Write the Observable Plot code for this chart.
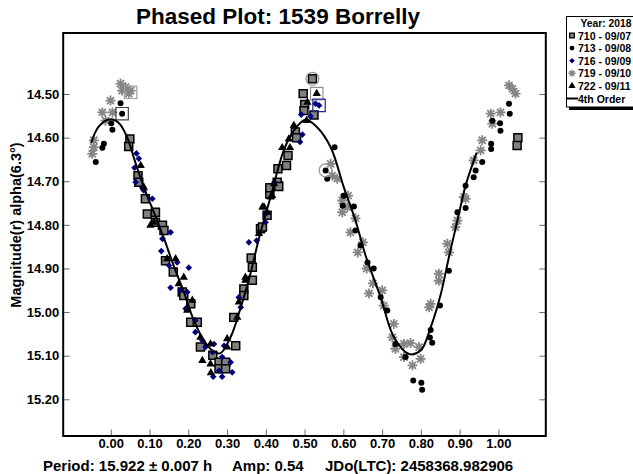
<!DOCTYPE html>
<html><head><meta charset="utf-8">
<script src="https://cdn.jsdelivr.net/npm/d3@7"></script>
<script src="https://cdn.jsdelivr.net/npm/@observablehq/plot@0.6"></script>
<style>
html,body{margin:0;padding:0;background:#fff;}
#wrap{position:relative;width:633px;height:474px;overflow:hidden;font-family:"Liberation Sans",Arial,sans-serif;}
#wrap svg{position:absolute;left:0;top:0;}
</style></head><body><div id="wrap"></div>
<script>
const titleText = "Phased Plot: 1539 Borrelly";
const yLabel = "Magnitude(r) alpha(6.3°)";
const captionParts = ["Period: 15.922 ± 0.007 h", "Amp: 0.54", "JDo(LTC): 2458368.982906"];
const legendTitle = "Year: 2018";
const seriesNames = ["710 - 09/07", "713 - 09/08", "716 - 09/09", "719 - 09/10", "722 - 09/11"];
const fitName = "4th Order";
const xTicks = [0, 0.1, 0.2, 0.3, 0.4, 0.5, 0.6, 0.7, 0.8, 0.9, 1.0];
const yTicks = [14.5, 14.6, 14.7, 14.8, 14.9, 15.0, 15.1, 15.2];

// [phase, magnitude]
const s710 = [[0.048,14.602],[0.045,14.619],[0.069,14.686],[0.071,14.701],[0.088,14.739],[0.093,14.774],[0.114,14.770],[0.114,14.793],[0.132,14.800],[0.136,14.812],[0.140,14.881],[0.160,14.907],[0.183,14.953],[0.187,14.961],[0.205,14.980],[0.205,15.022],[0.222,15.022],[0.230,15.079],[0.262,15.098],[0.278,15.114],[0.295,15.114],[0.278,15.129],[0.295,15.129],[0.321,15.076],[0.316,15.011],[0.342,14.946],[0.342,14.961],[0.364,14.926],[0.364,14.896],[0.361,14.875],[0.385,14.808],[0.390,14.804],[0.402,14.777],[0.409,14.728],[0.431,14.709],[0.519,14.464],[0.495,14.498],[0.499,14.523],[0.497,14.537],[0.523,14.547],[0.475,14.586],[0.478,14.599],[0.456,14.640],[0.452,14.663],[0.430,14.670],[0.428,14.701],[0.432,14.711],[0.409,14.714],[1.049,14.599],[1.047,14.617]];
const s713 = [[0.024,14.520],[0.028,14.544],[0.000,14.566],[0.003,14.581],[-0.019,14.613],[-0.023,14.622],[-0.040,14.655],[0.576,14.621],[0.553,14.674],[0.557,14.693],[0.599,14.732],[0.626,14.757],[0.597,14.755],[0.630,14.812],[0.643,14.846],[0.661,14.885],[0.677,14.899],[0.695,14.965],[0.712,14.995],[0.733,15.072],[0.759,15.102],[0.779,15.156],[0.800,15.161],[0.802,15.177],[0.824,15.040],[0.822,15.057],[0.828,15.069],[0.848,14.984],[0.871,14.904],[0.893,14.770],[0.914,14.760],[0.914,14.709],[1.026,14.521],[1.028,14.544],[0.983,14.560],[1.003,14.566],[1.004,14.583],[0.980,14.613],[0.980,14.625],[0.957,14.655],[0.940,14.674],[0.935,14.690]];
const s716 = [[0.065,14.635],[0.071,14.647],[0.060,14.668],[0.063,14.701],[0.080,14.713],[0.084,14.720],[0.106,14.739],[0.132,14.831],[0.129,14.859],[0.153,14.816],[0.149,14.892],[0.170,14.885],[0.200,14.897],[0.153,14.943],[0.179,14.949],[0.196,14.953],[0.192,14.991],[0.217,15.018],[0.217,15.045],[0.235,15.064],[0.243,15.079],[0.265,15.072],[0.261,15.091],[0.286,15.102],[0.308,15.114],[0.312,15.137],[0.263,15.147],[0.286,15.147],[0.278,15.133],[0.291,15.076],[0.329,14.965],[0.334,14.988],[0.355,14.839],[0.375,14.835],[0.398,14.793],[0.398,14.774],[0.536,14.525],[0.527,14.521],[0.490,14.546],[0.514,14.550],[0.493,14.592],[0.487,14.609],[0.421,14.701],[0.402,14.770]];
const s719 = [[0.024,14.475],[0.037,14.483],[0.050,14.491],[0.028,14.491],[0.045,14.498],[-0.002,14.514],[-0.023,14.541],[0.003,14.541],[-0.015,14.560],[-0.045,14.605],[-0.045,14.621],[-0.049,14.636],[0.566,14.659],[0.570,14.686],[0.583,14.693],[0.611,14.732],[0.596,14.743],[0.609,14.758],[0.596,14.770],[0.630,14.784],[0.617,14.816],[0.649,14.839],[0.636,14.862],[0.659,14.899],[0.675,14.933],[0.665,14.956],[0.699,14.949],[0.703,14.984],[0.729,15.026],[0.725,15.057],[0.733,15.083],[0.755,15.072],[0.772,15.070],[0.755,15.102],[0.777,15.121],[0.798,15.106],[0.794,15.079],[0.824,14.980],[0.820,14.988],[0.845,14.911],[0.845,14.927],[0.867,14.842],[0.871,14.862],[0.888,14.804],[0.893,14.789],[0.914,14.739],[0.910,14.735],[1.035,14.487],[1.026,14.479],[1.043,14.498],[0.979,14.544],[1.004,14.541],[0.983,14.567],[0.957,14.605],[0.953,14.628],[0.935,14.651]];
const s722 = [[0.076,14.663],[0.084,14.713],[0.101,14.800],[0.110,14.793],[0.144,14.877],[0.166,14.877],[0.187,14.919],[0.174,14.934],[0.209,14.972],[0.196,14.995],[0.230,15.057],[0.256,15.072],[0.235,15.110],[0.256,15.118],[0.257,15.138],[0.299,15.060],[0.299,15.079],[0.325,15.011],[0.329,14.976],[0.346,14.919],[0.346,14.926],[0.381,14.819],[0.390,14.758],[0.402,14.770],[0.415,14.732],[0.420,14.705],[0.530,14.498],[0.506,14.518],[0.504,14.560],[0.471,14.571],[0.458,14.602],[0.441,14.622],[0.461,14.622],[0.394,14.758],[0.411,14.735]];
// fitted 4th-order curve
const fit = [[-0.051,14.609],[-0.032,14.573],[-0.002,14.557],[0.020,14.566],[0.041,14.598],[0.060,14.650],[0.084,14.713],[0.110,14.770],[0.136,14.830],[0.160,14.890],[0.190,14.960],[0.213,15.018],[0.239,15.064],[0.265,15.090],[0.282,15.093],[0.308,15.056],[0.334,14.988],[0.359,14.911],[0.381,14.830],[0.411,14.735],[0.445,14.628],[0.471,14.583],[0.501,14.558],[0.531,14.575],[0.566,14.621],[0.600,14.713],[0.630,14.789],[0.656,14.869],[0.695,14.965],[0.729,15.056],[0.768,15.095],[0.798,15.087],[0.824,15.034],[0.850,14.958],[0.871,14.873],[0.893,14.789],[0.914,14.709],[0.942,14.635]];
// flagged points
const ringed = [[0.519,14.464],[0.553,14.674]];
const boxed = [[0.028,14.544,"#404040"],[0.050,14.495,"#a0a0a0"],[0.530,14.498,"#909090"],[0.536,14.525,"#2020a0"]];

const star8 = {draw(ctx, size) {
  const r = Math.sqrt(size / Math.PI);
  for (let i = 0; i < 4; i++) {
    const a = i * Math.PI / 4;
    ctx.moveTo(-r * Math.cos(a), -r * Math.sin(a));
    ctx.lineTo(r * Math.cos(a), r * Math.sin(a));
  }
}};

const tickStroke = "#6a6a6a";
const chart = Plot.plot({
  width: 633, height: 474,
  marginLeft: 62.7, marginRight: 87.7, marginTop: 32.5, marginBottom: 38.5,
  x: {domain: [-0.124, 1.121]},
  y: {domain: [14.359, 15.283], reverse: true},
  style: {fontFamily: "'Liberation Sans', Arial, sans-serif", fontSize: "13px", fontWeight: "bold", background: "transparent", color: "#000"},
  marks: [
    Plot.axisY(yTicks, {anchor: "left", tickSize: 0, tickPadding: 4, tickFormat: d => d.toFixed(2), label: null}),
    Plot.axisY(yTicks, {anchor: "left", tickSize: 7, dx: 7, tickFormat: () => "", label: null, stroke: tickStroke}),
    Plot.axisY(yTicks, {anchor: "right", tickSize: 7, dx: -7, tickFormat: () => "", label: null, stroke: tickStroke}),
    Plot.axisX(xTicks, {anchor: "bottom", tickSize: 0, tickPadding: 3, tickFormat: d => d.toFixed(2), label: null}),
    Plot.axisX(xTicks, {anchor: "bottom", tickSize: 6, dy: -6, tickFormat: () => "", label: null, stroke: tickStroke}),
    Plot.dot(s710, {x: d => d[0], y: d => d[1], symbol: "square", r: 4.5, fill: "#808080", stroke: "#000", strokeWidth: 1.5}),
    Plot.dot(s719, {x: d => d[0], y: d => d[1], symbol: star8, r: 5, fill: "none", stroke: "#858585", strokeWidth: 1.8}),
    Plot.dot(s713, {x: d => d[0], y: d => d[1], symbol: "circle", r: 3, fill: "#000", stroke: "none"}),
    Plot.dot(s716, {x: d => d[0], y: d => d[1], symbol: "diamond2", r: 3, fill: "#000080", stroke: "none"}),
    Plot.dot(s722, {x: d => d[0], y: d => d[1], symbol: "triangle", r: 3.1, fill: "#000", stroke: "none"}),
    Plot.dot(ringed, {x: d => d[0], y: d => d[1], symbol: "circle", r: 6.5, fill: "none", stroke: "#999", strokeWidth: 1.2}),
    Plot.dot(boxed, {x: d => d[0], y: d => d[1], symbol: "square", r: 7, fill: "none", stroke: d => d[2], strokeWidth: 1.2}),
    Plot.line(fit, {x: d => d[0], y: d => d[1], curve: "catmull-rom", stroke: "#000", strokeWidth: 2}),
    Plot.frame({stroke: "#000", strokeWidth: 2})
  ]
});
const wrap = document.getElementById("wrap");
wrap.appendChild(chart);

// overlay: title, y label, caption, legend
const ov = d3.select(wrap).append("svg").attr("width", 633).attr("height", 474)
  .style("font-family", "'Liberation Sans', Arial, sans-serif").style("font-weight", "bold");
ov.append("text").attr("x", 278).attr("y", 24).attr("text-anchor", "middle").attr("font-size", 22.5).text(titleText);
ov.append("text").attr("transform", "translate(21,225) rotate(-90)").attr("text-anchor", "middle").attr("font-size", 14.5).text(yLabel);
const capX = [43, 232, 325];
captionParts.forEach((t, i) => ov.append("text").attr("x", capX[i]).attr("y", 471).attr("font-size", 15).text(t));

// legend
const lg = ov.append("g");
lg.append("rect").attr("x", 569).attr("y", 19).attr("width", 80).attr("height", 91).attr("fill", "#000");
lg.append("rect").attr("x", 566.5).attr("y", 16.5).attr("width", 80).attr("height", 90.5).attr("fill", "#fff").attr("stroke", "#000").attr("stroke-width", 1);
lg.append("text").attr("x", 580.5).attr("y", 26.5).attr("font-size", 10.3).text(legendTitle);
const swatches = [
  {sym: d3.symbolSquare, size: 22, fill: "#808080", stroke: "#000", sw: 1.2},
  {sym: d3.symbolCircle, size: 18, fill: "#000", stroke: "none", sw: 0},
  {sym: d3.symbolDiamond2, size: 20, fill: "#000080", stroke: "none", sw: 0},
  {sym: star8, size: 40, fill: "none", stroke: "#858585", sw: 1.4},
  {sym: d3.symbolTriangle, size: 22, fill: "#000", stroke: "none", sw: 0}
];
seriesNames.forEach((name, i) => {
  const cy = 35.5 + i * 12.6;
  const s = swatches[i];
  lg.append("path").attr("d", d3.symbol(s.sym, s.size)()).attr("transform", `translate(572,${cy})`)
    .attr("fill", s.fill).attr("stroke", s.stroke).attr("stroke-width", s.sw);
  lg.append("text").attr("x", 578).attr("y", cy + 4).attr("font-size", 10.5).text(name);
});
const fy = 35.5 + 5 * 12.6;
lg.append("line").attr("x1", 566.5).attr("x2", 578).attr("y1", fy).attr("y2", fy).attr("stroke", "#000").attr("stroke-width", 2);
lg.append("text").attr("x", 578).attr("y", fy + 4).attr("font-size", 10.5).text(fitName);
</script></body></html>
